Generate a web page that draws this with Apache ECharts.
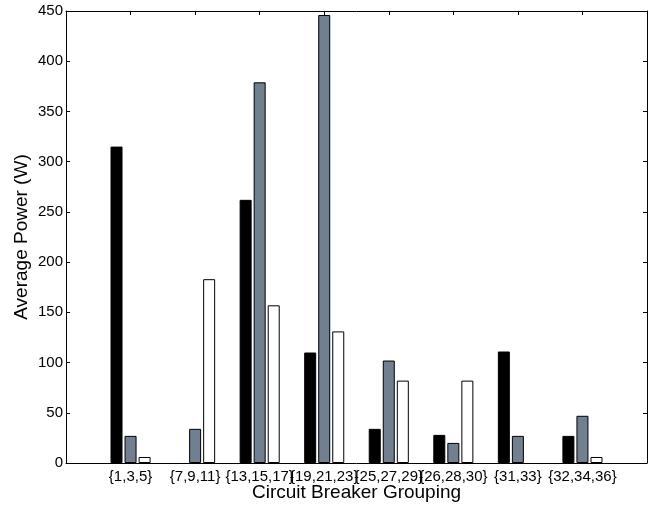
<!DOCTYPE html>
<html>
<head>
<meta charset="utf-8">
<script src="https://cdn.jsdelivr.net/npm/echarts@6/dist/echarts.min.js"></script>
<style>html,body{margin:0;padding:0;background:#fff;}#c{width:654px;height:505px;}</style>
</head>
<body>
<div id="c"></div>
<script>
const categories = ['{1,3,5}', '{7,9,11}', '{13,15,17}', '{19,21,23}', '{25,27,29}', '{26,28,30}', '{31,33}', '{32,34,36}'];
const seriesA = [315, 0, 262, 110, 34, 28, 111, 27];
const seriesB = [27, 34, 379, 446, 102, 20, 27, 47];
const seriesC = [6, 183, 157, 131, 82, 82, 0, 6];
const yTicks = [0, 50, 100, 150, 200, 250, 300, 350, 400, 450];

const pad = arr => [null].concat(arr.map(v => v === 0 ? {value: 0, itemStyle: {borderWidth: 0}} : v), [null]);
const cats = [''].concat(categories, ['']);
const font = '"Liberation Sans", Arial, Helvetica, sans-serif';

const chart = echarts.init(document.getElementById('c'), null, {renderer: 'canvas'});
const axisLine = {show: true, onZero: false, lineStyle: {color: '#000', width: 1}};
const tick = {show: true, inside: true, length: 4, lineStyle: {color: '#000', width: 1}};
chart.setOption({
  animation: false,
  backgroundColor: '#fff',
  grid: {left: 66, right: 7, top: 11, bottom: 42, containLabel: false, outerBoundsMode: 'none'},
  xAxis: [{
    type: 'category', data: cats, boundaryGap: false, position: 'bottom',
    axisLine: axisLine, axisTick: Object.assign({}, tick, {interval: 0}),
    axisLabel: {interval: 0, color: '#000', fontFamily: font, fontSize: 15, margin: 6, hideOverlap: false},
    splitLine: {show: false},
    name: 'Circuit Breaker Grouping', nameLocation: 'middle', nameGap: 20, nameMoveOverlap: false,
    nameTextStyle: {color: '#000', fontFamily: font, fontSize: 19}
  }, {
    type: 'category', data: cats, boundaryGap: false, position: 'top',
    axisLine: axisLine, axisTick: Object.assign({}, tick, {interval: 0}),
    axisLabel: {show: false}, splitLine: {show: false}
  }],
  yAxis: [{
    type: 'value', min: 0, max: 450, interval: 50, position: 'left',
    axisLine: axisLine, axisTick: tick,
    axisLabel: {color: '#000', fontFamily: font, fontSize: 15, margin: 3,
      formatter: v => yTicks.includes(v) ? String(v) : ''},
    splitLine: {show: false},
    name: 'Average Power (W)', nameLocation: 'middle', nameGap: 35, nameMoveOverlap: false,
    nameTextStyle: {color: '#000', fontFamily: font, fontSize: 19}
  }, {
    type: 'value', min: 0, max: 450, interval: 50, position: 'right',
    axisLine: axisLine, axisTick: tick, axisLabel: {show: false}, splitLine: {show: false}
  }],
  series: [
    {type: 'bar', data: pad(seriesA), barWidth: 12, barGap: '17%',
      itemStyle: {color: '#000', borderColor: '#000', borderWidth: 1}},
    {type: 'bar', data: pad(seriesB), barWidth: 12, barGap: '17%',
      itemStyle: {color: '#708090', borderColor: '#000', borderWidth: 1}},
    {type: 'bar', data: pad(seriesC), barWidth: 12, barGap: '17%',
      itemStyle: {color: '#fff', borderColor: '#000', borderWidth: 1}}
  ]
});
</script>
</body>
</html>
